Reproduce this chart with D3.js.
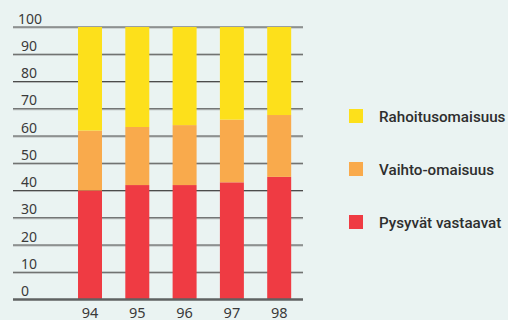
<!DOCTYPE html>
<html>
<head>
<meta charset="utf-8">
<script src="https://cdn.jsdelivr.net/npm/d3@7"></script>
<style>
	body { margin: 0; background: #eaf3f2; }
	svg { display: block; }
</style>
</head>
<body>
<div id="chart"></div>
<script>
var years = ['94', '95', '96', '97', '98'];
var pysyvat = [40, 42, 42, 43, 45];
var vaihto = [22, 21.3, 22, 23, 22.7];
var rahoitus = [38, 36.7, 36, 34, 32.3];
var yTicks = [0, 10, 20, 30, 40, 50, 60, 70, 80, 90, 100];

var seriesNames = ['Pysyvät vastaavat', 'Vaihto-omaisuus', 'Rahoitusomaisuus'];
var seriesColours = ['#ef3b43', '#f9aa4c', '#fde01b'];

var w = 508;
var h = 320;

var svg = d3.select('#chart').append('svg')
	.attr('width', w)
	.attr('height', h);

svg.append('rect').attr('width', w).attr('height', h).attr('fill', '#eaf3f2');

var x = d3.scaleBand().domain(years).range([54.7, 314.5]).paddingInner(0.493).paddingOuter(0.493);
var y = d3.scaleLinear().domain([0, 100]).range([299.5, 27]);

// grid lines
var grid = svg.append('g');
grid.selectAll('line.light').data(yTicks.slice(1)).enter().append('line')
	.attr('x1', 13).attr('x2', 303)
	.attr('y1', d => y(d) + 1).attr('y2', d => y(d) + 1)
	.attr('stroke', '#b4b8b8').attr('stroke-width', 1);
grid.selectAll('line.dark').data(yTicks.slice(1)).enter().append('line')
	.attr('x1', 13).attr('x2', 303)
	.attr('y1', d => y(d)).attr('y2', d => y(d))
	.attr('stroke', '#4c4c4c').attr('stroke-width', 1.2);

// tick labels
svg.append('g').selectAll('text').data(yTicks).enter().append('text')
	.attr('x', d => d == 100 ? 18 : 21)
	.attr('y', d => y(d) - 3.5)
	.attr('font-family', 'Noto Sans, sans-serif')
	.attr('font-size', 14)
	.attr('fill', '#3a3a3a')
	.text(d => d);

// stacked bars
var rows = years.map((yr, i) => ({year: yr, p: pysyvat[i], v: vaihto[i], r: rahoitus[i]}));
var stacked = d3.stack().keys(['p', 'v', 'r'])(rows);

svg.append('g').selectAll('g').data(stacked).enter().append('g')
	.attr('fill', (d, i) => seriesColours[i])
	.selectAll('rect').data(d => d).enter().append('rect')
	.attr('x', d => x(d.data.year))
	.attr('width', x.bandwidth())
	.attr('y', d => y(d[1]))
	.attr('height', d => y(d[0]) - y(d[1]));

// zero line
svg.append('line')
	.attr('x1', 13).attr('x2', 303)
	.attr('y1', y(0)).attr('y2', y(0))
	.attr('stroke', '#5f6262').attr('stroke-width', 2.5);

// x labels
svg.append('g').selectAll('text').data(years).enter().append('text')
	.attr('x', d => x(d) + x.bandwidth() / 2)
	.attr('y', 317.5)
	.attr('text-anchor', 'middle')
	.attr('font-family', 'Noto Sans, sans-serif')
	.attr('font-size', 14.5)
	.attr('fill', '#3a3a3a')
	.text(d => d);

// legend
var legendY = [215, 162, 109];
var legend = svg.append('g').selectAll('g').data(seriesNames).enter().append('g')
	.attr('transform', (d, i) => 'translate(349,' + legendY[i] + ')');
legend.append('rect')
	.attr('width', 14).attr('height', 14)
	.attr('fill', (d, i) => seriesColours[i]);
legend.append('text')
	.attr('x', 30).attr('y', 12.8)
	.attr('font-family', 'Roboto, sans-serif')
	.attr('font-weight', 500)
	.attr('font-size', 15.2)
	.attr('fill', '#2e2e2e')
	.text(d => d);
</script>
</body>
</html>
